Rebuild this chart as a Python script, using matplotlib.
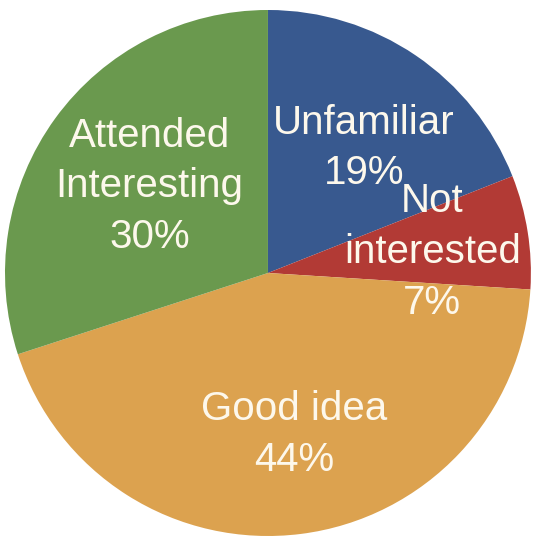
import matplotlib.pyplot as plt

# Dati della torta (in senso orario dall'alto)
labels = ["Unfamiliar", "Not\ninterested", "Good idea", "Attended\nInteresting"]
shares = [19, 7, 44, 30]
colors = ["#38598f", "#b23a35", "#dca24f", "#6a994e"]

# posizioni delle etichette (coordinate dati, centro torta = 0,0)
label_pos = [(0.365, 0.475), (0.625, 0.08), (0.10, -0.615), (-0.45, 0.33)]


def main():
    fig = plt.figure(figsize=(5.38, 5.36), dpi=100)
    ax = fig.add_axes([0, 0, 1, 1])

    ax.pie(shares, colors=colors, startangle=90, counterclock=False,
           radius=1.0, wedgeprops=dict(linewidth=0))

    for lab, val, (x, y) in zip(labels, shares, label_pos):
        ax.text(x, y, f"{lab}\n{val}%", ha="center", va="center",
                color="#fdf8ec", fontsize=29, family="Liberation Sans",
                linespacing=1.42)

    ax.set_xlim(-1.019, 1.027)
    ax.set_ylim(-1.0, 1.038)
    ax.set_aspect("auto")
    ax.axis("off")
    fig.savefig("out.png", dpi=100)


if __name__ == "__main__":
    main()
